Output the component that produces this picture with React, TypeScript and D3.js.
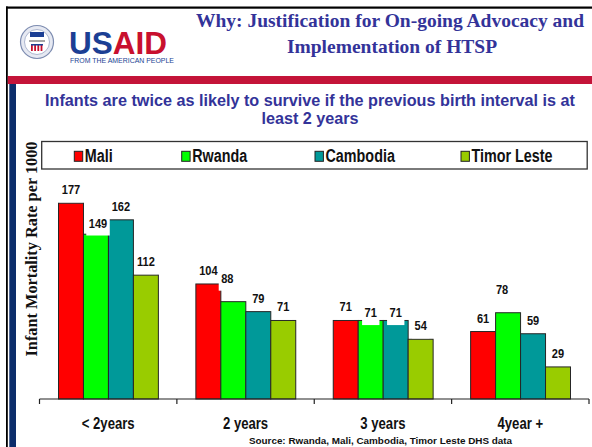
import React, { useEffect, useRef } from 'react';
import * as d3 from 'd3';

// chart data
const categories = ['< 2years', '2 years', '3 years', '4year +'];
const seriesNames = ['Mali', 'Rwanda', 'Cambodia', 'Timor Leste'];
const mali = [177, 104, 71, 61];
const rwanda = [149, 88, 71, 78];
const cambodia = [162, 79, 71, 59];
const timorLeste = [112, 71, 54, 29];
const seriesValues = [mali, rwanda, cambodia, timorLeste];

const colors = ['#ff0000', '#00ff00', '#009999', '#99cc00'];
const TITLE_BLUE = '#333399';
const SANS = "'Liberation Sans', Arial, sans-serif";
const SERIF = "'Liberation Serif', 'Times New Roman', serif";
const NARROW_SCALE = 0.82; // no Arial Narrow here, so squeeze Arial bold

// hand-placed label offsets, as in the original slide [dx, dy]
const labelNudge: Record<string, [number, number]> = {
  '1-0': [2, 2.3],
  '1-1': [-6, -10],
  '1-2': [0, 5.6],
  '2-2': [0, 5.6],
  '1-3': [-6, -10],
};

const W = 592;
const H = 447;

type Sel = d3.Selection<any, any, any, any>;

function narrowText(parent: Sel, x: number, y: number, txt: string, size: number, anchor = 'start') {
  const g = parent.append('g').attr('transform', `translate(${x},${y}) scale(${NARROW_SCALE},1)`);
  const t = g.append('text').attr('x', 0).attr('y', 0)
    .attr('text-anchor', anchor).attr('font-family', SANS)
    .attr('font-weight', 'bold').attr('font-size', size).attr('fill', '#111')
    .text(txt);
  return { g, t };
}

const App: React.FC = () => {
  const svgRef = useRef<SVGSVGElement>(null);

  useEffect(() => {
    if (!svgRef.current) return;
    const svg = d3.select(svgRef.current);
    svg.selectAll('*').remove();

    // slide frame
    svg.append('rect').attr('width', W).attr('height', H).attr('fill', '#fff');
    svg.append('rect').attr('x', 6).attr('y', 6.5).attr('width', W - 6).attr('height', 2.2).attr('fill', '#000');
    svg.append('rect').attr('x', 6).attr('y', 6.5).attr('width', 1.8).attr('height', H).attr('fill', '#000');
    svg.append('rect').attr('x', 7.8).attr('y', 76).attr('width', W).attr('height', 8).attr('fill', '#c41439');
    svg.append('rect').attr('x', 9.3).attr('y', 84).attr('width', 6.7).attr('height', H).attr('fill', '#0c2d6b');

    // USAID logo
    const logo = svg.append('g');
    logo.append('circle').attr('cx', 37).attr('cy', 42).attr('r', 16.5)
      .attr('fill', '#e6e9f2').attr('stroke', '#7d8cb0').attr('stroke-width', 1.2);
    logo.append('circle').attr('cx', 37).attr('cy', 42).attr('r', 12.5)
      .attr('fill', '#fff').attr('stroke', '#9aa6c4').attr('stroke-width', 0.8);
    logo.append('rect').attr('x', 30).attr('y', 32).attr('width', 14).attr('height', 5).attr('fill', '#1c3f94');
    logo.append('line').attr('x1', 29).attr('x2', 45).attr('y1', 41).attr('y2', 41)
      .attr('stroke', '#888').attr('stroke-width', 1.5);
    [0, 1, 2, 3].forEach(i => {
      logo.append('rect').attr('x', 31 + i * 3.2).attr('y', 45).attr('width', 1.8).attr('height', 6)
        .attr('fill', '#c8102e');
    });
    logo.append('rect').attr('x', 31).attr('y', 44).attr('width', 12).attr('height', 1.5).attr('fill', '#1c3f94');

    const usaid = logo.append('text').attr('x', 69).attr('y', 53.5)
      .attr('font-family', SANS).attr('font-weight', 'bold').attr('font-size', 31)
      .attr('textLength', 98).attr('lengthAdjust', 'spacingAndGlyphs');
    usaid.append('tspan').attr('fill', '#1c3f94').text('US');
    usaid.append('tspan').attr('fill', '#c8102e').text('AID');
    logo.append('text').attr('x', 70).attr('y', 62.5).attr('font-family', SANS)
      .attr('font-size', 6.5).attr('fill', '#1c3f94')
      .attr('textLength', 104).attr('lengthAdjust', 'spacingAndGlyphs')
      .text('FROM THE AMERICAN PEOPLE');

    // header title
    const header = svg.append('text').attr('font-family', SERIF).attr('font-weight', 'bold')
      .attr('font-size', 19.5).attr('fill', TITLE_BLUE).attr('text-anchor', 'middle');
    header.append('tspan').attr('x', 390).attr('y', 27).text('Why: Justification for On-going Advocacy and');
    header.append('tspan').attr('x', 392).attr('y', 53).text('Implementation of HTSP');

    // subtitle
    const sub = svg.append('text').attr('font-family', SANS).attr('font-weight', 'bold')
      .attr('font-size', 16.2).attr('fill', TITLE_BLUE).attr('text-anchor', 'middle');
    sub.append('tspan').attr('x', 310).attr('y', 106)
      .text('Infants are twice as likely to survive if the previous birth interval is at');
    sub.append('tspan').attr('x', 310).attr('y', 124).text('least 2 years');

    // scales
    const baseY = 399;
    const x0 = d3.scaleBand<string>().domain(categories).range([39.5, 589]).padding(0);
    const x1 = d3.scaleBand<string>().domain(seriesNames)
      .range([19, x0.bandwidth() - 18.5]).padding(0);
    const y = d3.scaleLinear().domain([0, 200]).range([baseY, baseY - 221.2]);

    // bars
    const groups = svg.append('g').selectAll('g')
      .data(categories)
      .join('g')
      .attr('transform', c => `translate(${x0(c)},0)`);

    groups.selectAll('rect')
      .data((c, ci) => seriesNames.map((s, si) => ({ s, si, ci, v: seriesValues[si][ci] })))
      .join('rect')
      .attr('x', d => x1(d.s)!)
      .attr('y', d => y(d.v))
      .attr('width', x1.bandwidth())
      .attr('height', d => baseY - y(d.v))
      .attr('fill', d => colors[d.si])
      .attr('stroke', '#262626')
      .attr('stroke-width', 1);

    // value labels with white background boxes
    const labels = svg.append('g');
    categories.forEach((c, ci) => {
      seriesNames.forEach((s, si) => {
        const v = seriesValues[si][ci];
        const nudge = labelNudge[`${si}-${ci}`] || [0, 0];
        const cx = x0(c)! + x1(s)! + x1.bandwidth() / 2 + nudge[0];
        const by = y(v) - 9 + nudge[1];
        const { g, t } = narrowText(labels, cx, by, String(v), 13.5, 'middle');
        const bb = (t.node() as SVGTextElement).getBBox();
        g.insert('rect', 'text')
          .attr('x', bb.x - 3).attr('y', -12)
          .attr('width', bb.width + 6).attr('height', 20)
          .attr('fill', '#fff');
      });
    });

    // x axis
    const axis = svg.append('g').attr('stroke', '#222').attr('stroke-width', 1.2);
    axis.append('line').attr('x1', x0.range()[0]).attr('x2', x0.range()[1])
      .attr('y1', baseY).attr('y2', baseY);
    const ticks = categories.map(c => x0(c)!).concat([x0.range()[1]]);
    axis.selectAll('line.tick').data(ticks).join('line').attr('class', 'tick')
      .attr('x1', d => d).attr('x2', d => d).attr('y1', baseY).attr('y2', baseY + 5);

    const catLabels = svg.append('g');
    categories.forEach(c => {
      narrowText(catLabels, x0(c)! + x0.bandwidth() / 2, 429, c, 16, 'middle');
    });

    // y axis title
    svg.append('text')
      .attr('transform', 'translate(37,249) rotate(-90)')
      .attr('text-anchor', 'middle').attr('font-family', SERIF)
      .attr('font-weight', 'bold').attr('font-size', 16.3).attr('fill', '#111')
      .text('Infant Mortality Rate per 1000');

    // legend
    const legend = svg.append('g');
    legend.append('rect').attr('x', 41.7).attr('y', 141.5).attr('width', 545.5).attr('height', 27.5)
      .attr('fill', '#fff').attr('stroke', '#333').attr('stroke-width', 1.3);
    const legendX = [74.3, 181.7, 315, 461];
    seriesNames.forEach((s, i) => {
      legend.append('rect').attr('x', legendX[i]).attr('y', 151.3).attr('width', 8.4).attr('height', 10)
        .attr('fill', colors[i]).attr('stroke', '#222').attr('stroke-width', 1);
      narrowText(legend, legendX[i] + 10.5, 161.5, s, 17.5);
    });

    // source note
    svg.append('text').attr('x', 380.5).attr('y', 443.5).attr('text-anchor', 'middle')
      .attr('font-family', SANS).attr('font-weight', 'bold').attr('font-size', 9.9)
      .attr('fill', '#111').text('Source: Rwanda, Mali, Cambodia, Timor Leste DHS data');
  }, []);

  return (
    <svg ref={svgRef} width={W} height={H}
      style={{ position: 'absolute', left: 0, top: 0, display: 'block' }} />
  );
};

export default App;
